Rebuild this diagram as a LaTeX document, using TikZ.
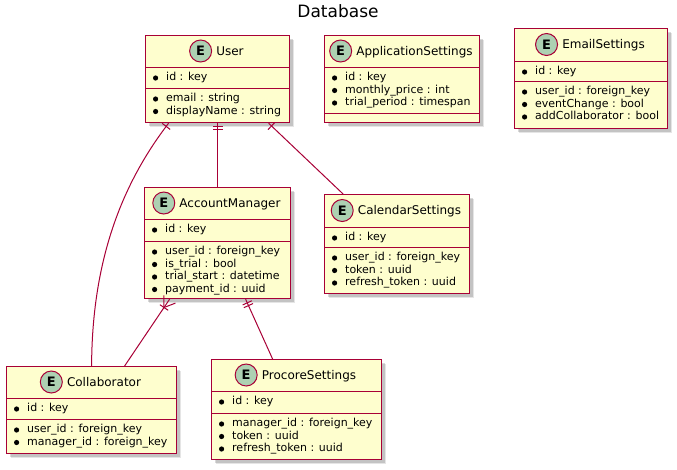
\documentclass[tikz,border=0pt]{standalone}
\usepackage{fontspec}
\setmainfont{DejaVu Sans}
\usetikzlibrary{positioning,calc,shadows}
\definecolor{entitybg}{HTML}{FEFECE}
\definecolor{entityline}{HTML}{A80036}
\definecolor{badgebg}{HTML}{ADD1B2}

\tikzset{
  entity/.style={draw=entityline, fill=entitybg, line width=1.2pt, anchor=north west, inner sep=0pt,
    drop shadow={shadow xshift=4.5pt, shadow yshift=-4.5pt, fill=black, opacity=0.1},
    drop shadow={shadow xshift=3pt, shadow yshift=-3pt, fill=black, opacity=0.15}},
  divider/.style={entityline, line width=1pt},
  etitle/.style={inner sep=0pt, text height=10pt, text depth=1.5pt, font=\fontsize{12}{14}\selectfont},
  badge/.style={circle, draw=entityline, fill=badgebg, line width=1pt, minimum size=22pt, inner sep=0pt,
    font=\bfseries\fontsize{13}{13}\selectfont},
  field/.style={anchor=west, inner sep=0pt, text height=8pt, text depth=2.5pt, font=\fontsize{11}{13}\selectfont},
  relation/.style={entityline, line width=1pt},
}

% box, header and the two dividers: name, title, x, y, width, height, divider 1, divider 2
\newcommand{\entity}[8]{%
  \node[entity, minimum width=#5pt, minimum height=#6pt] (#1) at (#3,#4) {};
  \node[etitle] (#1-t) at (#3+#5/2+13, #4/2+#7/2) {#2};
  \node[badge, left=4pt of #1-t] (#1-b) {E};
  \draw[divider] (#3,#7) -- (#3+#5,#7);
  \draw[divider] (#3,#8) -- (#3+#5,#8);
}

% bullet rows: prefix, x, y of first row, rows
\newcommand{\fieldrows}[4]{%
  \foreach \f [count=\i from 0] in {#4} {
    \fill[black] (#2+2.6, #3+12.5*\i) circle (2.6);
    \node[field] (#1-\i) at (#2+13, #3+12.5*\i) {\f};
  }
}

% one bar across a relation, #3 away from end #1
\newcommand{\onebar}[3]{%
  \draw[relation] ($(#1)!#3!(#2)!5pt!90:(#2)$) -- ($(#1)!#3!(#2)!5pt!-90:(#2)$);}

% crow's foot at end #1
\newcommand{\crowfoot}[2]{%
  \draw[relation] ($(#1)!7pt!90:(#2)$) -- ($(#1)!10pt!(#2)$) -- ($(#1)!7pt!-90:(#2)$);}

\begin{document}
\begin{tikzpicture}[x=1pt, y=-1pt]
  \useasboundingbox (0,0) rectangle (677,469);

  \node[font=\fontsize{17}{20}\selectfont] (title) at (338,11) {Database};

  % === ENTITIES ===
  \entity{user}{User}{145}{35}{144}{87}{67}{88}
  \fieldrows{user-k}{153}{78}{id : key}
  \fieldrows{user-f}{153}{99}{email : string, displayName : string}

  \entity{app}{ApplicationSettings}{324}{35}{155}{87}{67}{113}
  \fieldrows{app-k}{332}{78}{id : key, monthly\_price : int, trial\_period : timespan}

  \entity{mail}{EmailSettings}{514}{28}{153}{100}{61}{81}
  \fieldrows{mail-k}{522}{72}{id : key}
  \fieldrows{mail-f}{522}{92}{user\_id : foreign\_key, eventChange : bool, addCollaborator : bool}

  \entity{am}{AccountManager}{144}{187}{146}{111}{219}{241}
  \fieldrows{am-k}{152}{230}{id : key}
  \fieldrows{am-f}{152}{252}{user\_id : foreign\_key, is\_trial : bool, trial\_start : datetime, payment\_id : uuid}

  \entity{cal}{CalendarSettings}{324}{194}{145}{99}{227}{247}
  \fieldrows{cal-k}{332}{238}{id : key}
  \fieldrows{cal-f}{332}{258}{user\_id : foreign\_key, token : uuid, refresh\_token : uuid}

  \entity{col}{Collaborator}{6}{366}{170}{87}{398}{419}
  \fieldrows{col-k}{14}{409}{id : key}
  \fieldrows{col-f}{14}{430}{user\_id : foreign\_key, manager\_id : foreign\_key}

  \entity{pro}{ProcoreSettings}{211}{359}{170}{100}{391}{413}
  \fieldrows{pro-k}{219}{402}{id : key}
  \fieldrows{pro-f}{219}{424}{manager\_id : foreign\_key, token : uuid, refresh\_token : uuid}

  % === RELATIONS ===
  \coordinate (user-l) at ([xshift=-49pt]user.south);
  \coordinate (user-r) at ([xshift=51pt]user.south);
  \coordinate (am-l) at ([xshift=-48pt]am.south);
  \coordinate (am-r) at ([xshift=28pt]am.south);
  \coordinate (col-r) at ([xshift=33pt]col.north);
  \coordinate (cal-l) at ([xshift=-54pt]cal.north);
  \coordinate (pro-l) at ([xshift=-24pt]pro.north);

  \draw[relation] (user-l) .. controls (125,180) and (92,255) .. (col.north);
  \onebar{user-l}{125,180}{4pt}

  \draw[relation] (user.south) -- (am.north);
  \onebar{user.south}{am.north}{3pt}
  \onebar{user.south}{am.north}{6pt}

  \draw[relation] (user-r) -- (cal-l);
  \onebar{user-r}{cal-l}{4pt}

  \draw[relation] (am-l) -- (col-r);
  \crowfoot{am-l}{col-r}
  \onebar{am-l}{col-r}{10pt}

  \draw[relation] (am-r) -- (pro-l);
  \onebar{am-r}{pro-l}{4pt}
  \onebar{am-r}{pro-l}{7pt}
\end{tikzpicture}
\end{document}
